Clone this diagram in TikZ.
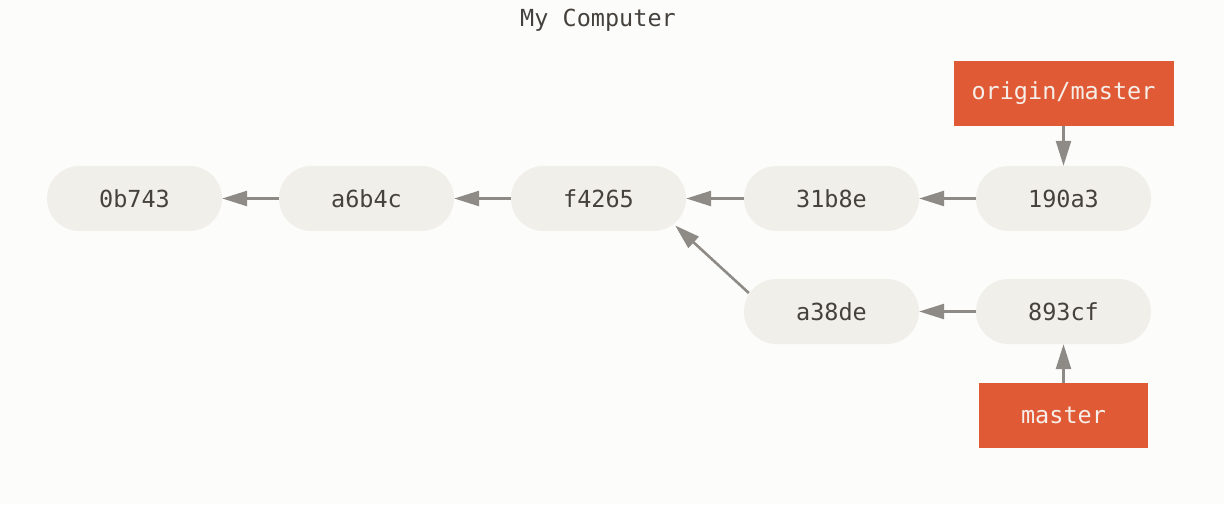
\documentclass[tikz,border=0pt]{standalone}
\usepackage{fontspec}
\setmonofont{DejaVu Sans Mono}
\usetikzlibrary{arrows.meta}
\definecolor{bgc}{HTML}{FCFCFA}
\definecolor{pillc}{HTML}{F0EFEA}
\definecolor{txtc}{HTML}{45423D}
\definecolor{refc}{HTML}{E05A36}
\definecolor{reftxt}{HTML}{F6EEE8}
\definecolor{arrc}{HTML}{8E8A85}
\tikzset{
  commit/.style={rectangle, rounded corners=32.4pt, fill=pillc, minimum width=175pt, minimum height=65pt, inner sep=0pt, text=txtc, font=\ttfamily\fontsize{23.5}{23.5}\selectfont},
  refbox/.style={rectangle, fill=refc, minimum height=65pt, inner sep=0pt, text=reftxt, font=\ttfamily\fontsize{23.5}{23.5}\selectfont},
  parent/.style={draw=arrc, line width=2.6pt, -{Triangle[length=25pt,width=15pt]}},
  titlestyle/.style={text=txtc, font=\ttfamily\fontsize{23.5}{23.5}\selectfont, inner sep=0pt}
}
\begin{document}
\begin{tikzpicture}[x=1pt,y=1pt]
\fill[bgc] (0,0) rectangle (1224,504);
\useasboundingbox (0,0) rectangle (1224,504);
\node[titlestyle] (title) at (598,484) {My Computer};
\node[commit] (c0) at (134.5,305.5) {0b743};
\node[commit] (c1) at (366.5,305.5) {a6b4c};
\node[commit] (c2) at (598.5,305.5) {f4265};
\node[commit] (c3) at (831.5,305.5) {31b8e};
\node[commit] (c4) at (1063.5,305.5) {190a3};
\node[commit] (c5) at (831.5,192.5) {a38de};
\node[commit] (c6) at (1063.5,192.5) {893cf};
\node[refbox, minimum width=220pt] (om) at (1063.5,410.5) {origin/master};
\node[refbox, minimum width=169pt] (ma) at (1063.5,88.5) {master};
\draw[parent] (c1.west) -- (c0.east);
\draw[parent] (c2.west) -- (c1.east);
\draw[parent] (c3.west) -- (c2.east);
\draw[parent] (c4.west) -- (c3.east);
\draw[parent] (c6.west) -- (c5.east);
\draw[parent] ([shift={(5pt,18.5pt)}]c5.west) -- ([shift={(-11pt,-27pt)}]c2.east);
\draw[parent] (om.south) -- (c4.north);
\draw[parent] (ma.north) -- (c6.south);
\end{tikzpicture}
\end{document}
